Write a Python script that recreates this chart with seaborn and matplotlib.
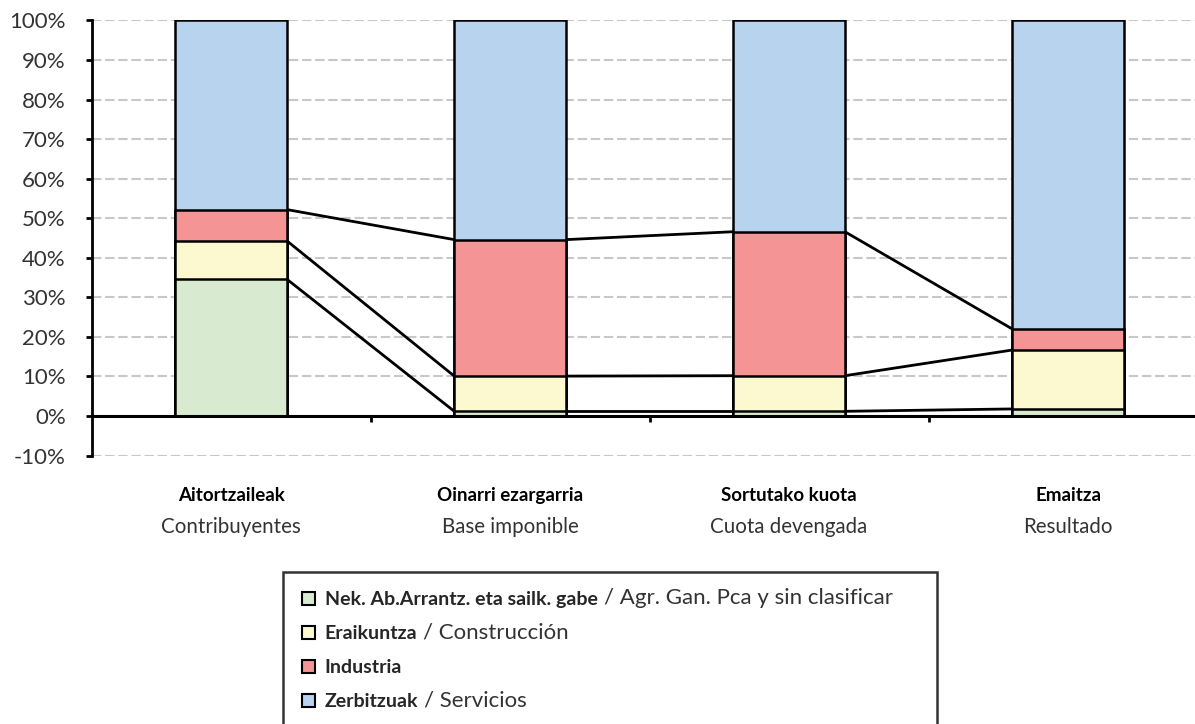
import numpy as np
import matplotlib
matplotlib.use('Agg')
import matplotlib.pyplot as plt
import seaborn as sns
from matplotlib.patches import Patch

# categories (Basque / Spanish)
categories_eu = ['Aitortzaileak', 'Oinarri ezargarria', 'Sortutako kuota', 'Emaitza']
categories_es = ['Contribuyentes', 'Base imponible', 'Cuota devengada', 'Resultado']

# sectors (Basque / Spanish)
sector_eu = ['Nek. Ab.Arrantz. eta sailk. gabe', 'Eraikuntza', 'Industria', 'Zerbitzuak']
sector_es = ['Agr. Gan. Pca y sin clasificar', 'Construcción', '', 'Servicios']

# shares in %
agr = [34.6, 1.2, 1.2, 1.8]
construccion = [9.7, 8.9, 9.0, 14.9]
industria = [7.9, 34.5, 36.4, 5.3]
servicios = [47.8, 55.4, 53.4, 78.0]

colors = ['#D8EAD0', '#FCF8D0', '#F59494', '#B7D3EE']
yticks = list(range(-10, 101, 10))

sns.set_style('white')
plt.rcParams['font.family'] = ['Lato', 'DejaVu Sans']

fig = plt.figure(figsize=(11.95, 7.24), dpi=100)
ax = fig.add_axes([0.0766, 0.3707, 0.934, 0.601])

series = [agr, construccion, industria, servicios]
cum = np.cumsum(np.array(series), axis=0)

# draw from the top layer down so lower segments sit over the taller bars
for k in range(3, -1, -1):
    sns.barplot(x=categories_eu, y=cum[k], order=categories_eu, color=colors[k],
                saturation=1, width=0.4, edgecolor='black', linewidth=1.8,
                errorbar=None, ax=ax, zorder=3)

# series lines between bars
for k in range(3):
    for i in range(len(categories_eu) - 1):
        ax.plot([i + 0.2, i + 0.8], [cum[k][i], cum[k][i + 1]],
                color='black', lw=2, zorder=4, solid_capstyle='butt')

ax.set_xlim(-0.5, 3.5)
ax.set_ylim(-10, 100)
ax.set_yticks(yticks)
ax.set_yticklabels([f'{v}%' for v in yticks], fontsize=16, color='#333333')
ax.set_xticks([0.5, 1.5, 2.5])
ax.set_xticklabels([])
ax.set_xlabel('')
ax.set_ylabel('')

ax.yaxis.grid(True, linestyle=(0, (4.5, 1.8)), color='#C8C8C8', lw=1.5)
ax.xaxis.grid(False)
ax.set_axisbelow(True)

for s in ['top', 'right']:
    ax.spines[s].set_visible(False)
ax.spines['bottom'].set_position(('data', 0))
ax.spines['bottom'].set_linewidth(2.2)
ax.spines['bottom'].set_color('black')
ax.spines['bottom'].set_zorder(5)
ax.spines['left'].set_linewidth(2)
ax.spines['left'].set_color('black')
ax.tick_params(axis='y', direction='out', length=4.5, width=2, color='black', pad=14, left=True)
ax.tick_params(axis='x', direction='out', length=4.5, width=2, color='black', bottom=True)

# category labels under the chart
for i, (eu, es) in enumerate(zip(categories_eu, categories_es)):
    ax.text(i, -20.0, eu, ha='center', va='center', fontsize=13.5, fontweight='bold',
            color='black', clip_on=False)
    ax.text(i, -28.0, es, ha='center', va='center', fontsize=14.8, color='#333333',
            clip_on=False)

# legend
handles = [Patch(facecolor=c, edgecolor='black', linewidth=1.5) for c in colors]
leg = fig.legend(handles, sector_eu, loc='upper left',
                 bbox_to_anchor=(0.2368, 0.0, 0.5473, 0.2099), mode='expand',
                 borderaxespad=0, frameon=True, fancybox=False,
                 prop={'size': 14, 'weight': 'bold'}, handlelength=0.65,
                 handleheight=0.65, handletextpad=0.5, labelspacing=0.87,
                 borderpad=1.0)
leg.get_frame().set_edgecolor('black')
leg.get_frame().set_linewidth(1.8)

fig.canvas.draw()
inv = fig.transFigure.inverted()
for t, es in zip(leg.get_texts(), sector_es):
    if not es:
        continue
    bb = t.get_window_extent()
    x0, y0 = inv.transform((bb.x1 + 6, bb.y0))
    fig.text(x0, y0, '/ ' + es, ha='left', va='bottom', fontsize=16,
             color='#333333', zorder=10)

fig.savefig('out.png', dpi=100)
